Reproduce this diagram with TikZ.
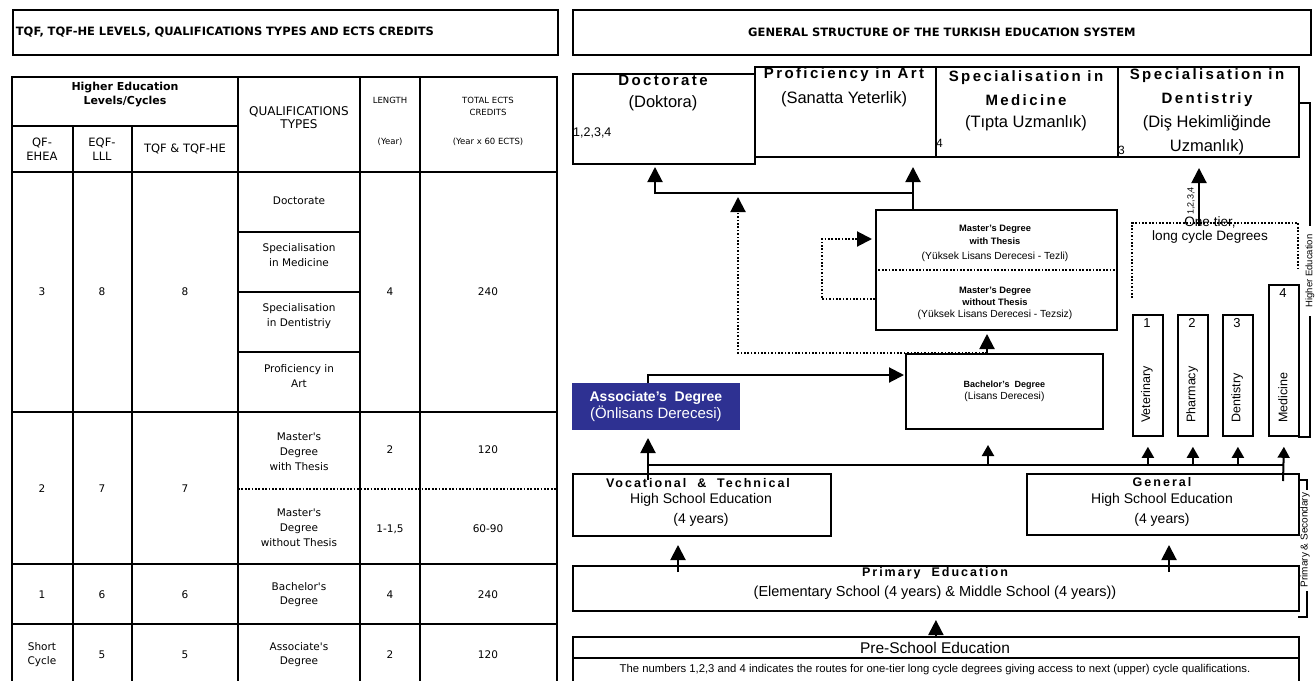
\documentclass[tikz,border=0pt]{standalone}
\usepackage{fontspec}
\setmainfont{Liberation Sans}
\newfontfamily\tabfont{DejaVu Sans}
\newfontfamily\spacedfont[LetterSpace=16]{Liberation Sans}
\usetikzlibrary{arrows.meta}

\definecolor{assocblue}{RGB}{46,49,146}
\newcommand{\fsz}[2]{\fontsize{#1}{#2}\selectfont}

\tikzset{
  tabline/.style={line width=2.6pt},
  box/.style={draw, line width=1.8pt, anchor=north west, inner sep=0pt},
  cell/.style={inner sep=0pt, align=center, font=\tabfont\fsz{10.5}{15}},
  headcell/.style={inner sep=0pt, align=center, font=\tabfont\fsz{11.5}{14}},
  smallcell/.style={inner sep=0pt, align=center, font=\tabfont\fsz{8.5}{12}},
  txt/.style={inner sep=0pt, align=center},
  line/.style={line width=2pt},
  dots/.style={line width=1.8pt, dash pattern=on 1.7pt off 1.7pt},
  arr/.style={line width=2pt, -{Triangle[width=15pt,length=15pt]}},
  sarr/.style={line width=2pt, -{Triangle[width=12pt,length=11pt]}},
}

\begin{document}
\begin{tikzpicture}[x=1pt, y=-1pt]
    \useasboundingbox (0,0) rectangle (1316,680);
    %\draw[help lines, step=50] (0,0) grid (1316,680);

    % tableau de gauche
    \node[box, minimum width=545pt, minimum height=45pt, inner xsep=3pt, text width=539pt,
          align=left, font=\tabfont\bfseries\fsz{11.5}{13}] (tqf) at (12,9)
          {TQF, TQF-HE LEVELS, QUALIFICATIONS TYPES AND ECTS CREDITS};
    \draw[tabline] (12,77) rectangle (557,700);
    \draw[tabline] (12,126) -- (238,126);
    \draw[tabline] (12,172) -- (557,172);
    \draw[tabline] (73,126) -- (73,700) (132,126) -- (132,700);
    \draw[tabline] (238,77) -- (238,700) (360,77) -- (360,700) (420,77) -- (420,700);
    \draw[tabline] (238,232) -- (360,232) (238,292) -- (360,292) (238,352) -- (360,352);
    \draw[tabline] (12,412) -- (557,412) (12,564) -- (557,564) (12,624) -- (557,624);
    \draw[dots] (238,489) -- (557,489);

    \node[headcell, font=\tabfont\bfseries\fsz{11}{14}] (lvl) at (125,95) {Higher Education\\Levels/Cycles};
    \node[headcell, font=\tabfont\fsz{12}{13}] (qual) at (299,118) {QUALIFICATIONS\\TYPES};
    \node[smallcell] (len) at (390,100) {LENGTH};
    \node[smallcell] (leny) at (390,142) {(Year)};
    \node[smallcell] (ects) at (488,106) {TOTAL ECTS\\CREDITS};
    \node[smallcell] (ectsy) at (488,142) {(Year x 60 ECTS)};
    \node[headcell] (qf) at (42,149) {QF-\\EHEA};
    \node[headcell] (eqf) at (102,149) {EQF-\\LLL};
    \node[headcell] (tqfhe) at (185,149) {TQF \& TQF-HE};

    \node[cell] (r3a) at (42,292) {3};
    \node[cell] (r3b) at (102,292) {8};
    \node[cell] (r3c) at (185,292) {8};
    \node[cell] (r3d) at (390,292) {4};
    \node[cell] (r3e) at (488,292) {240};
    \node[cell] (q1) at (299,201) {Doctorate};
    \node[cell] (q2) at (299,255) {Specialisation\\in Medicine};
    \node[cell] (q3) at (299,316) {Specialisation\\in Dentistriy};
    \node[cell] (q4) at (299,376) {Proficiency in\\Art};

    \node[cell] (r2a) at (42,489) {2};
    \node[cell] (r2b) at (102,489) {7};
    \node[cell] (r2c) at (185,489) {7};
    \node[cell] (q5) at (299,452) {Master's\\Degree\\with Thesis};
    \node[cell] (r2d) at (390,450) {2};
    \node[cell] (r2e) at (488,450) {120};
    \node[cell] (q6) at (299,528) {Master's\\Degree\\without Thesis};
    \node[cell] (r2f) at (390,529) {1-1,5};
    \node[cell] (r2g) at (488,529) {60-90};

    \node[cell] (r1a) at (42,595) {1};
    \node[cell] (r1b) at (102,595) {6};
    \node[cell] (r1c) at (185,595) {6};
    \node[cell, font=\tabfont\fsz{10.5}{14}] (q7) at (299,595) {Bachelor's\\Degree};
    \node[cell] (r1d) at (390,595) {4};
    \node[cell] (r1e) at (488,595) {240};

    \node[cell, font=\tabfont\fsz{10.5}{14}] (r0a) at (42,655) {Short\\Cycle};
    \node[cell] (r0b) at (102,655) {5};
    \node[cell] (r0c) at (185,655) {5};
    \node[cell, font=\tabfont\fsz{10.5}{14}] (q8) at (299,655) {Associate's\\Degree};
    \node[cell] (r0d) at (390,655) {2};
    \node[cell] (r0e) at (488,655) {120};

    % structure generale
    \node[box, minimum width=738pt, minimum height=45pt, font=\tabfont\bfseries\fsz{11.5}{13}] (gst) at (572,9)
          {GENERAL STRUCTURE OF THE TURKISH EDUCATION SYSTEM};

    \node[box, minimum width=182pt, minimum height=90pt] (doc) at (572,73) {};
    \node[box, minimum width=181pt, minimum height=90pt] (prof) at (754,66) {};
    \node[box, minimum width=182pt, minimum height=90pt] (spmed) at (935,66) {};
    \node[box, minimum width=181pt, minimum height=90pt] (spdent) at (1117,66) {};

    \node[txt, font=\spacedfont\bfseries\fsz{15}{17}] (doct) at (663,80) {Doctorate};
    \node[txt, font=\fsz{16.5}{18}] (docs) at (663,103) {(Doktora)};
    \node[txt, anchor=west, font=\fsz{12.5}{14}] (docn) at (573,133) {1,2,3,4};
    \node[txt, font=\spacedfont\bfseries\fsz{15}{17}] (proft) at (844,75) {Proficiency in Art};
    \node[txt, font=\fsz{16.5}{18}] (profs) at (844,99) {(Sanatta Yeterlik)};
    \node[txt, anchor=west, font=\fsz{12}{14}] (medn) at (936,143) {4};
    \node[txt, font=\spacedfont\bfseries\fsz{15}{24}] (medt) at (1026,88) {Specialisation in\\Medicine};
    \node[txt, font=\fsz{16.5}{18}] (meds) at (1026,123) {(Tıpta Uzmanlık)};
    \node[txt, font=\spacedfont\bfseries\fsz{15}{24}] (dentt) at (1207,88) {Specialisation in\\Dentistriy};
    \node[txt, font=\fsz{16.5}{24}] (dents) at (1207,135) {(Diş Hekimliğinde\\Uzmanlık)};
    \node[txt, anchor=west, font=\fsz{12}{14}] (dentn) at (1118,150) {3};

    % master / bachelor / associate
    \node[box, minimum width=241pt, minimum height=120pt] (mast) at (875,209) {};
    \draw[dots] (mast.west) -- (mast.east);
    \node[txt, font=\bfseries\fsz{9.3}{12.5}] (mwt) at (995,235) {Master's Degree\\with Thesis};
    \node[txt, font=\fsz{10.3}{12}] (mwts) at (995,257) {(Yüksek Lisans Derecesi - Tezli)};
    \node[txt, font=\bfseries\fsz{9.3}{12}] (mwo) at (995,296) {Master's Degree\\without Thesis};
    \node[txt, font=\fsz{10.3}{12}] (mwos) at (995,315) {(Yüksek Lisans Derecesi - Tezsiz)};

    \node[box, minimum width=197pt, minimum height=75pt, align=center] (bach) at (905,353)
          {{\bfseries\fsz{9}{16}Bachelor's\ \ Degree}\\{\fsz{10.3}{16}(Lisans Derecesi)}};

    \node[box, draw=assocblue, fill=assocblue, text=white, minimum width=166pt, minimum height=45pt,
          align=center] (assoc) at (572,383)
          {{\bfseries\fsz{14}{18}Associate's\ \ Degree}\\{\fsz{15}{18}(Önlisans Derecesi)}};

    % long cycle
    \node[box, minimum width=30pt, minimum height=121pt] (vet) at (1132,314) {};
    \node[box, minimum width=30pt, minimum height=121pt] (pha) at (1177,314) {};
    \node[box, minimum width=30pt, minimum height=121pt] (den) at (1222,314) {};
    \node[box, minimum width=30pt, minimum height=151pt] (med) at (1268,284) {};
    \node[txt, font=\fsz{13}{14}] (n1) at (1147,323) {1};
    \node[txt, font=\fsz{13}{14}] (n2) at (1192,323) {2};
    \node[txt, font=\fsz{13}{14}] (n3) at (1237,323) {3};
    \node[txt, font=\fsz{13}{14}] (n4) at (1283,293) {4};
    \node[txt, rotate=90, anchor=west, font=\fsz{12.5}{14}] (vetl) at (1147,423) {Veterinary};
    \node[txt, rotate=90, anchor=west, font=\fsz{12.5}{14}] (phal) at (1192,423) {Pharmacy};
    \node[txt, rotate=90, anchor=west, font=\fsz{12.5}{14}] (denl) at (1237,423) {Dentistry};
    \node[txt, rotate=90, anchor=west, font=\fsz{12.5}{14}] (medl) at (1283,423) {Medicine};

    \draw[dots] (1132,298) -- (1132,223) -- (1298,223) -- (1298,270);
    \node[txt, font=\fsz{13.6}{14}] (onetier) at (1210,230) {One tier,\\long cycle Degrees};

    % secondaire, primaire, prescolaire
    \node[box, minimum width=258pt, minimum height=62pt] (voc) at (572,473) {};
    \node[txt, font=\spacedfont\bfseries\fsz{12.5}{14}] (voct) at (698,483) {Vocational \ \& \ Technical};
    \node[txt, font=\fsz{14}{20}] (vocs) at (701,510) {High School Education\\(4 years)};
    \node[box, minimum width=272pt, minimum height=61pt] (gen) at (1026,473) {};
    \node[txt, font=\spacedfont\bfseries\fsz{12.5}{14}] (gent) at (1162,482) {General};
    \node[txt, font=\fsz{14}{20}] (gens) at (1162,510) {High School Education\\(4 years)};
    \node[box, minimum width=726pt, minimum height=45pt] (prim) at (572,565) {};
    \node[txt, font=\spacedfont\bfseries\fsz{12.5}{14}] (primt) at (935,573) {Primary \ Education};
    \node[txt, font=\fsz{14.5}{16}] (prims) at (935,593) {(Elementary School (4 years) \& Middle School (4 years))};
    \node[box, minimum width=726pt, minimum height=60pt] (pres) at (572,636) {};
    \draw[line] (572,658) -- (1298,658);
    \node[txt, font=\fsz{15.5}{16}] (prest) at (935,648) {Pre-School Education};
    \node[txt, font=\fsz{11.3}{12}] (note) at (935,670)
          {The numbers 1,2,3 and 4 indicates the routes for one-tier long cycle degrees giving access to next (upper) cycle qualifications.};

    % fleches
    \coordinate (split) at (913,193);
    \coordinate (doctip) at (655,167);
    \coordinate (proftip) at (913,167);
    \draw[arr] (mast.north -| split) -- (proftip);
    \draw[arr] (split) -| (doctip);

    \coordinate (bachup) at (987,334);
    \coordinate (dotturn) at (738,353);
    \coordinate (dottip) at (738,197);
    \draw[arr] (bach.north -| bachup) -- (bachup);
    \draw[dots, arr] (bach.north -| bachup) -- (dotturn) -- (dottip);

    \coordinate (loopb) at (822,299);
    \coordinate (looptip) at (872,239);
    \draw[dots, arr] (mast.west |- loopb) -- (loopb) |- (looptip);

    \coordinate (voctip) at (648,438);
    \coordinate (vocin) at (648,480);
    \coordinate (bachtip) at (904,375);
    \draw[arr] (assoc.north -| voctip) |- (bachtip);
    \draw[arr] (vocin) -- (voctip);

    \coordinate (busl) at (648,465);
    \coordinate (genin) at (1283,481);
    \coordinate (bachtip2) at (988,445);
    \draw[line] (busl) -- (busl -| genin);
    \draw[sarr] (busl -| bachtip2) -- (bachtip2);
    \draw[sarr] (busl -| vet.south) -- ([yshift=-10pt]vet.south);
    \draw[sarr] (busl -| pha.south) -- ([yshift=-10pt]pha.south);
    \draw[sarr] (busl -| den.south) -- ([yshift=-10pt]den.south);
    \draw[sarr] (genin) -- ([yshift=-10pt]med.south);

    \coordinate (vocup) at (678,545);
    \coordinate (genup) at (1169,545);
    \draw[arr] (vocup |- 0,572) -- (vocup);
    \draw[arr] (genup |- 0,572) -- (genup);
    \draw[arr] (pres.north) -- ([yshift=16pt]pres.north);

    \coordinate (lcfrom) at (1199,226);
    \coordinate (lctip) at (1199,168);
    \draw[arr] (lcfrom) -- (lctip);
    \node[txt, rotate=90, font=\fsz{9}{10}] (routes) at (1191,201) {1,2,3,4};

    % accolades a droite
    \draw[line] (spdent.east |- 0,103) -- (1310,103) -- (1310,226);
    \draw[line] (1310,316) -- (1310,437) -- (1298,437);
    \node[txt, rotate=90, font=\fsz{9.5}{10}] (hedu) at (1310,271) {Higher Education};
    \draw[line] (1298,480) -- (1307,480) -- (1307,490);
    \draw[line] (1307,591) -- (1307,617) -- (1298,617);
    \node[txt, rotate=90, font=\fsz{10}{10}] (psec) at (1305,540) {Primary \& Secondary};
\end{tikzpicture}
\end{document}
